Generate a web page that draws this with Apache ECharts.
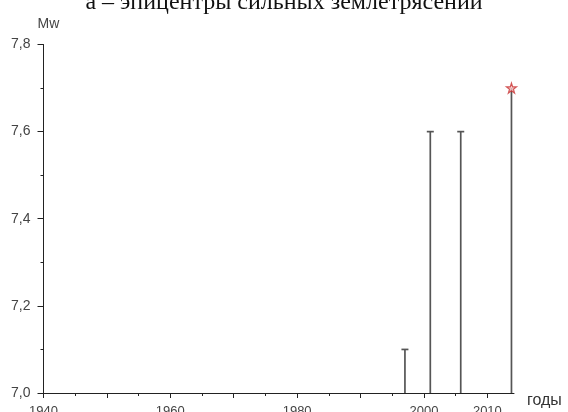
<!DOCTYPE html>
<html>
<head>
<meta charset="utf-8">
<script src="https://cdn.jsdelivr.net/npm/echarts@6/dist/echarts.min.js"></script>
<style>
html,body{margin:0;padding:0;background:#fff;}
#chart{width:568px;height:412px;}
</style>
</head>
<body>
<div id="chart"></div>
<script>
// Data
var years = [1997.0, 2001.0, 2005.8, 2013.8];
var magnitudes = [7.1, 7.6, 7.6, 7.7];
var starIndex = 3;
var xLabelValues = [1940, 1960, 1980, 2000, 2010];
var xMajorTicks = [1940, 1950, 1960, 1970, 1980, 1990, 2000, 2010];
var xMinorTicks = [1945, 1955, 1965, 1975, 1985, 1995, 2005];
var titleText = 'а – эпицентры сильных землетрясений';

var stems = years.map(function (y, i) { return [y, magnitudes[i], i === starIndex ? 0 : 1]; });
var stars = [[years[starIndex], magnitudes[starIndex]]];

var chart = echarts.init(document.getElementById('chart'));
var sans = 'Liberation Sans, Arial, sans-serif';

chart.setOption({
  animation: false,
  backgroundColor: '#fff',
  title: {
    text: titleText,
    left: 'center',
    top: -14,
    textStyle: { fontFamily: 'Liberation Serif, Times New Roman, serif', fontSize: 24, fontWeight: 'normal', color: '#111' }
  },
  grid: { left: 43.5, right: 54, top: 44.5, bottom: 19, containLabel: false, outerBoundsMode: 'none' },
  xAxis: [{
    type: 'value', min: 1940, max: 2014.2,
    name: 'годы', nameLocation: 'end', nameGap: 13,
    nameTextStyle: { fontFamily: sans, fontSize: 16, color: '#333', verticalAlign: 'top', padding: [0, 0, 0, 0] },
    axisLine: { show: true, lineStyle: { color: '#222', width: 1 } },
    axisTick: { show: true, inside: false, length: 5, customValues: xMajorTicks, lineStyle: { color: '#222' } },
    axisLabel: { customValues: xLabelValues, margin: 12, fontFamily: sans, fontSize: 13, color: '#444', formatter: function (v) { return String(v); } },
    splitLine: { show: false }
  }, {
    type: 'value', min: 1940, max: 2014.2, position: 'bottom',
    axisLine: { show: false },
    axisTick: { show: true, inside: false, length: 3, customValues: xMinorTicks, lineStyle: { color: '#222' } },
    axisLabel: { show: false },
    splitLine: { show: false }
  }],
  yAxis: {
    type: 'value', min: 7.0, max: 7.8, interval: 0.2,
    name: 'Mw', nameLocation: 'end', nameGap: 13,
    nameTextStyle: { fontFamily: sans, fontSize: 14, color: '#444', align: 'center', padding: [0, 0, 0, 10] },
    axisLine: { show: true, lineStyle: { color: '#222', width: 1 } },
    axisTick: { show: true, inside: false, length: 6, lineStyle: { color: '#222' } },
    minorTick: { show: true, splitNumber: 2, length: 3, lineStyle: { color: '#222' } },
    axisLabel: { margin: 13, fontFamily: sans, fontSize: 14, color: '#444', formatter: function (v) { return v.toFixed(1).replace('.', ','); } },
    splitLine: { show: false }
  },
  series: [{
    type: 'custom',
    xAxisIndex: 0,
    data: stems,
    renderItem: function (params, api) {
      var base = api.coord([api.value(0), 7.0]);
      var top = api.coord([api.value(0), api.value(1)]);
      var children = [{
        type: 'line',
        shape: { x1: top[0], y1: base[1], x2: top[0], y2: top[1] },
        style: { stroke: '#555', lineWidth: 1.7 }
      }];
      if (api.value(2) === 1) {
        children.push({
          type: 'line',
          shape: { x1: top[0] - 3.5, y1: top[1], x2: top[0] + 3.5, y2: top[1] },
          style: { stroke: '#555', lineWidth: 1.7 }
        });
      }
      return { type: 'group', children: children };
    },
    z: 3
  }, {
    type: 'scatter',
    xAxisIndex: 0,
    data: stars,
    symbol: 'path://M50,0 L61.8,35.1 L98.9,35.1 L68.9,57.3 L80.3,92.7 L50,70.8 L19.7,92.7 L31.1,57.3 L1.1,35.1 L38.2,35.1 Z',
    symbolSize: 10,
    itemStyle: { color: '#f6c4c4', borderColor: '#c83232', borderWidth: 1.2 },
    z: 4
  }]
});
</script>
</body>
</html>
